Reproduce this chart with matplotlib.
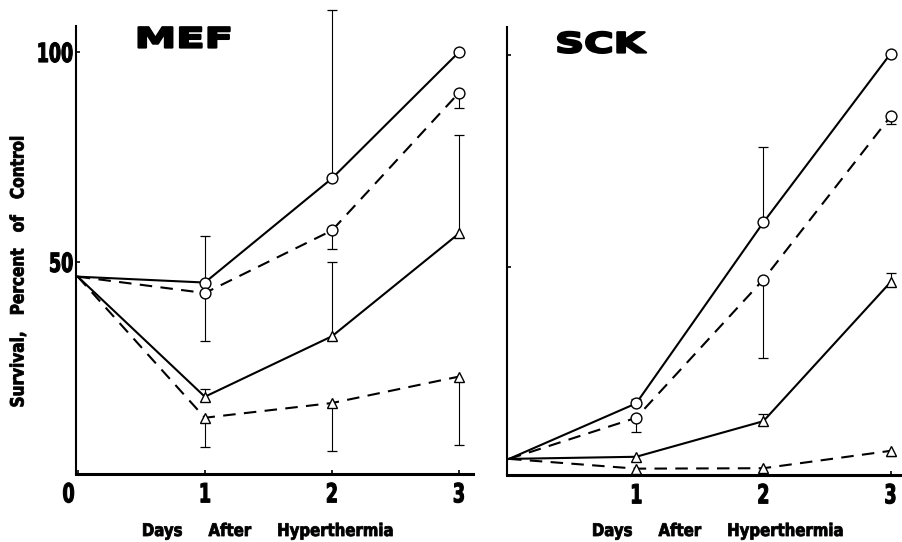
import numpy as np
import matplotlib
matplotlib.use("Agg")
import matplotlib.pyplot as plt
from matplotlib import patheffects as pe
from matplotlib.transforms import Affine2D

nan = np.nan

# ---------------- data ----------------
days = [0, 1, 2, 3]
x_tick_labels_mef = ["0", "1", "2", "3"]
x_tick_labels_sck = ["1", "2", "3"]
y_ticks = [50, 100]
y_tick_labels = ["50", "100"]

# MEF panel (survival, percent of control)
mef_circle_solid = [46.5, 45.1, 69.9, 100.0]
mef_circle_dashed = [46.5, 42.6, 57.5, 90.3]
mef_tri_solid = [46.5, 17.9, 32.3, 56.8]
mef_tri_dashed = [46.5, 12.9, 16.4, 22.7]
# error-bar end values (nan = no bar)
mef_circle_solid_err = [nan, 56.1, 110.0, nan]
mef_circle_dashed_err = [nan, 31.1, 53.2, 86.6]
mef_tri_solid_err = [nan, 19.8, 49.9, 80.2]
mef_tri_dashed_err = [nan, 5.9, 5.0, 6.3]

# SCK panel
sck_circle_solid = [4.7, 17.8, 60.5, 100.3]
sck_circle_dashed = [4.7, 14.4, 47.0, 85.5]
sck_tri_solid = [4.7, 5.2, 13.6, 46.4]
sck_tri_dashed = [4.7, 2.4, 2.5, 6.6]
sck_circle_solid_err = [nan, 18.9, 78.3, nan]
sck_circle_dashed_err = [nan, 11.0, 28.4, 83.6]
sck_tri_solid_err = [nan, nan, 15.2, 48.6]
sck_tri_dashed_err = [nan, nan, nan, 5.3]


# ---------------- helpers ----------------
class Stretch(pe.AbstractPathEffect):
    """Scale text glyphs horizontally/vertically (condensed / extended type),
    optionally thickening them with a stroke of the same colour."""

    def __init__(self, sx=1.0, sy=1.0, anchor="center", stroke=0.0):
        super().__init__()
        self.sx, self.sy, self.anchor, self.stroke = sx, sy, anchor, stroke

    def draw_path(self, renderer, gc, tpath, affine, rgbFace=None):
        bb = tpath.get_extents(affine)
        if self.anchor == "left":
            x0 = bb.x0
        elif self.anchor == "right":
            x0 = bb.x1
        else:
            x0 = 0.5 * (bb.x0 + bb.x1)
        y0 = 0.5 * (bb.y0 + bb.y1)
        t = affine + Affine2D().translate(-x0, -y0).scale(self.sx, self.sy).translate(x0, y0)
        if self.stroke > 0:
            gc0 = renderer.new_gc()
            gc0.copy_properties(gc)
            gc0.set_linewidth(self.stroke)
            gc0.set_foreground("k")
            gc0.set_joinstyle("round")
            renderer.draw_path(gc0, tpath, t, rgbFace)
            gc0.restore()
        else:
            renderer.draw_path(gc, tpath, t, rgbFace)


W, H = 903, 542
fig = plt.figure(figsize=(W / 100, H / 100), dpi=100)
fig.patch.set_facecolor("white")

LW = 1.5
DASH = (6, 4)


def draw_panel(ax, series, errs):
    styles = [("-", "o"), ("--", "o"), ("-", "^"), ("--", "^")]
    for y, e, (ls, mk) in zip(series, errs, styles):
        y = np.asarray(y, float)
        e = np.asarray(e, float)
        d = np.asarray(days, float)
        m = ~np.isnan(e)
        ax.vlines(d[m], y[m], e[m], color="k", lw=0.8, zorder=2, clip_on=False)
        ax.plot(d[m], e[m], ls="none", marker="_", ms=7, mew=0.9, color="k",
                zorder=2, clip_on=False)
        kw = dict(dashes=DASH) if ls == "--" else {}
        ax.plot(days, y, color="k", lw=LW, ls=ls, marker=mk, markevery=[1, 2, 3],
                ms=7.8, mfc="white", mec="k", mew=1.0,
                zorder=3, clip_on=False, **kw)
    for s in ("top", "right"):
        ax.spines[s].set_visible(False)
    ax.spines["left"].set_linewidth(1.5)
    ax.spines["bottom"].set_linewidth(2.2)
    ax.tick_params(direction="in", length=3, width=1.2, colors="k")


tick_font = dict(family="DejaVu Sans", weight="bold", size=19)
tick_fx = dict(sx=0.66, stroke=0.8)

# ---- MEF ----
ax1 = fig.add_axes([76.5 / W, 1 - 474 / H, (473 - 76.5) / W, (474 - 26) / H])
draw_panel(ax1,
           [mef_circle_solid, mef_circle_dashed, mef_tri_solid, mef_tri_dashed],
           [mef_circle_solid_err, mef_circle_dashed_err, mef_tri_solid_err, mef_tri_dashed_err])
ax1.set_xlim(-0.01, 3.11)
ax1.set_ylim(-0.5, 106.2)
ax1.set_xticks(days)
ax1.set_xticklabels(x_tick_labels_mef, fontdict=tick_font)
ax1.set_yticks(y_ticks)
ax1.set_yticklabels(y_tick_labels, fontdict=tick_font)
ax1.tick_params(axis="x", pad=6)
ax1.tick_params(axis="y", pad=2)
for lbl in ax1.get_xticklabels():
    lbl.set_path_effects([Stretch(**tick_fx)])
ax1.get_xticklabels()[0].set_horizontalalignment("right")
for lbl in ax1.get_yticklabels():
    lbl.set_path_effects([Stretch(anchor="right", **tick_fx)])

# ---- SCK ----
ax2 = fig.add_axes([507 / W, 1 - 475 / H, (902 - 507) / W, (475 - 27) / H])
draw_panel(ax2,
           [sck_circle_solid, sck_circle_dashed, sck_tri_solid, sck_tri_dashed],
           [sck_circle_solid_err, sck_circle_dashed_err, sck_tri_solid_err, sck_tri_dashed_err])
ax2.set_xlim(-0.016, 3.09)
ax2.set_ylim(0.9, 106.6)
ax2.set_xticks(days[1:])
ax2.set_xticklabels(x_tick_labels_sck, fontdict=tick_font)
ax2.set_yticks(y_ticks)
ax2.set_yticklabels([])
ax2.tick_params(axis="x", pad=6)
for lbl in ax2.get_xticklabels():
    lbl.set_path_effects([Stretch(**tick_fx)])

# ---- titles ----
title_font = dict(family="DejaVu Sans", weight="bold", size=20)
fig.text(136 / W, 1 - 47.5 / H, "MEF", ha="left", va="baseline",
         path_effects=[Stretch(sx=1.5, anchor="left", stroke=1.6)], **title_font)
fig.text(556 / W, 1 - 52.5 / H, "SCK", ha="left", va="baseline",
         path_effects=[Stretch(sx=1.45, anchor="left", stroke=1.6)], **title_font)

# ---- axis labels ----
lab_font = dict(family="DejaVu Sans", weight="bold", size=12.5)
xlab = "Days     After     Hyperthermia"
fig.text(268 / W, 1 - 531 / H, xlab, ha="center", va="center",
         path_effects=[Stretch(sx=0.86, stroke=0.6)], **lab_font)
fig.text(718 / W, 1 - 531 / H, xlab, ha="center", va="center",
         path_effects=[Stretch(sx=0.86, stroke=0.6)], **lab_font)
fig.text(18 / W, 1 - 272 / H, "Survival,   Percent   of   Control", rotation=90,
         ha="center", va="center", path_effects=[Stretch(sx=1.1, sy=0.92, stroke=0.6)],
         family="DejaVu Sans", weight="bold", size=12)

fig.savefig("out.png", dpi=100, facecolor="white")
